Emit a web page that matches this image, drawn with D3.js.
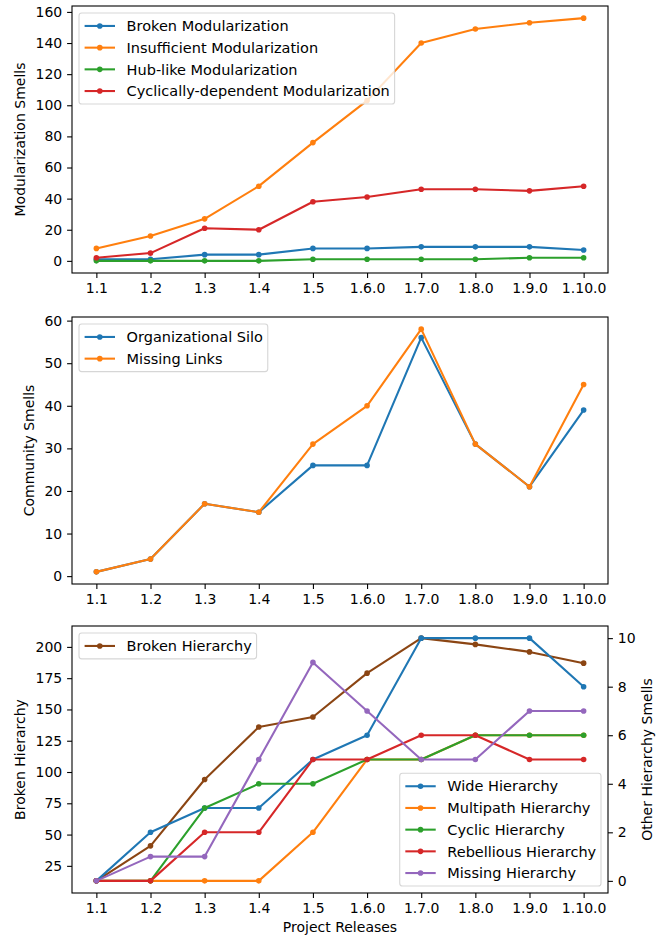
<!DOCTYPE html>
<html>
<head>
<meta charset="utf-8">
<script src="https://cdn.jsdelivr.net/npm/d3@7/dist/d3.min.js"></script>
<style>
    body { margin: 0; background: #ffffff; }
    svg text { font-family: "DejaVu Sans", sans-serif; font-size: 14px; fill: #000; }
    .axis path, .axis line { stroke: #000; stroke-width: 1.1px; }
    .legendText { font-size: 14.5px; }
</style>
</head>
<body>
<svg id="chart" width="662" height="938"></svg>
<script>
// ---------------------------- DATA ----------------------------
const releases = ["1.1", "1.2", "1.3", "1.4", "1.5", "1.6.0", "1.7.0", "1.8.0", "1.9.0", "1.10.0"];

// Top panel (modularization smells)
const brokenModularization = [1, 1, 4, 4, 8, 8, 9, 9, 9, 7];
const insufficientModularization = [8, 16, 27, 48, 76, 103, 140, 149, 153, 156];
const hubLikeModularization = [0, 0, 0, 0, 1, 1, 1, 1, 2, 2];
const cyclicModularization = [2, 5, 21, 20, 38, 41, 46, 46, 45, 48];
const modularizationTicks = [0, 20, 40, 60, 80, 100, 120, 140, 160];

// Middle panel (community smells)
const organizationalSilo = [1, 4, 17, 15, 26, 26, 56, 31, 21, 39];
const missingLinks = [1, 4, 17, 15, 31, 40, 58, 31, 21, 45];
const communityTicks = [0, 10, 20, 30, 40, 50, 60];

// Bottom panel (hierarchy smells)
const brokenHierarchy = [13, 41, 94, 136, 144, 179, 207, 202, 196, 187];
const wideHierarchy = [0, 2, 3, 3, 5, 6, 10, 10, 10, 8];
const multipathHierarchy = [0, 0, 0, 0, 2, 5, 5, 6, 6, 6];
const cyclicHierarchy = [0, 0, 3, 4, 4, 5, 5, 6, 6, 6];
const rebelliousHierarchy = [0, 0, 2, 2, 5, 5, 6, 6, 5, 5];
const missingHierarchy = [0, 1, 1, 5, 9, 7, 5, 5, 7, 7];
const brokenHierarchyTicks = [25, 50, 75, 100, 125, 150, 175, 200];
const otherHierarchyTicks = [0, 2, 4, 6, 8, 10];

// Colours
const blue = "#1f77b4", orange = "#ff7f0e", green = "#2ca02c", red = "#d62728", purple = "#9467bd", brown = "#8b4513";

// ---------------------------- LAYOUT ----------------------------
const left = 72;
const right = 608;
const panelHeight = 267;
const panelTops = [6, 317, 626];
const fontSize = 14;
const tickLen = 4.9;

const svg = d3.select("#chart");

const x = d3.scaleLinear()
    .domain([-0.45, releases.length - 1 + 0.45])
    .range([left, right]);

// matplotlib-style autoscale with 5% margins
function paddedDomain(seriesList) {
    const all = seriesList.flat();
    const lo = d3.min(all), hi = d3.max(all);
    const pad = (hi - lo) * 0.05;
    return [lo - pad, hi + pad];
}

function textWidth(str, cls) {
    const t = svg.append("text").attr("class", cls || null).text(str);
    const w = t.node().getComputedTextLength();
    t.remove();
    return w;
}

function drawSeries(g, y, values, colour) {
    const line = d3.line()
        .x((d, i) => x(i))
        .y(d => y(d));
    g.append("path")
        .datum(values)
        .attr("d", line)
        .attr("fill", "none")
        .attr("stroke", colour)
        .attr("stroke-width", 2.08)
        .attr("stroke-linejoin", "round");
    g.selectAll(null)
        .data(values)
        .enter()
        .append("circle")
        .attr("cx", (d, i) => x(i))
        .attr("cy", d => y(d))
        .attr("r", 2.8)
        .attr("fill", colour);
}

function drawXAxis(top) {
    svg.append("g")
        .attr("class", "axis")
        .attr("transform", "translate(0," + (top + panelHeight) + ")")
        .call(d3.axisBottom(x)
            .tickValues(d3.range(releases.length))
            .tickFormat(i => releases[i])
            .tickSize(tickLen)
            .tickPadding(4.9)
            .tickSizeOuter(0))
        .call(g => g.select(".domain").remove())
        .selectAll("text")
        .style("font-size", fontSize + "px")
        .attr("fill", "#000");
}

function drawYAxis(y, ticks, side, label) {
    const axis = side === "left" ? d3.axisLeft(y) : d3.axisRight(y);
    const xPos = side === "left" ? left : right;
    const g = svg.append("g")
        .attr("class", "axis")
        .attr("transform", "translate(" + xPos + ",0)")
        .call(axis.tickValues(ticks).tickSize(tickLen).tickPadding(4.9).tickSizeOuter(0));
    g.select(".domain").remove();
    g.selectAll("text").style("font-size", fontSize + "px").attr("fill", "#000");

    // Axis label positioned outside the widest tick label
    const maxW = d3.max(ticks, t => textWidth(String(t)));
    const yMid = (y.range()[0] + y.range()[1]) / 2;
    let lx;
    if (side === "left") {
        lx = left - tickLen - 4.9 - maxW - 5.6 - 4.5;
    } else {
        lx = right + tickLen + 4.9 + maxW + 5.6 + 10.6;
    }
    svg.append("text")
        .attr("transform", "translate(" + lx + "," + yMid + ") rotate(-90)")
        .attr("text-anchor", "middle")
        .text(label);
}

function drawFrame(top) {
    svg.append("rect")
        .attr("x", left)
        .attr("y", top)
        .attr("width", right - left)
        .attr("height", panelHeight)
        .attr("fill", "none")
        .attr("stroke", "#000")
        .attr("stroke-width", 1.1);
}

// Legend box, sizes
function drawLegend(items, top, corner) {
    const pad = 5.6, rowH = 14.7, spacing = 7;
    const handle = 30.4, handleGap = 11.6, axPad = 7;
    const maxW = d3.max(items, d => textWidth(d.name, "legendText"));
    const w = pad + handle + handleGap + maxW + 4.8;
    const h = pad * 2 + items.length * rowH + (items.length - 1) * spacing;
    let bx, by;
    if (corner === "upper left") {
        bx = left + axPad;
        by = top + axPad;
    } else {
        bx = right - axPad - w;
        by = top + panelHeight - axPad - h;
    }
    const g = svg.append("g");
    g.append("rect")
        .attr("x", bx).attr("y", by)
        .attr("width", w).attr("height", h)
        .attr("rx", 2.8)
        .attr("fill", "#fff").attr("fill-opacity", 0.8)
        .attr("stroke", "#cccccc").attr("stroke-opacity", 0.8)
        .attr("stroke-width", 1.1);
    items.forEach((d, i) => {
        const cy = by + pad + rowH / 2 + i * (rowH + spacing);
        g.append("line")
            .attr("x1", bx + pad).attr("x2", bx + pad + handle)
            .attr("y1", cy).attr("y2", cy)
            .attr("stroke", d.colour).attr("stroke-width", 2.08);
        g.append("circle")
            .attr("cx", bx + pad + handle / 2).attr("cy", cy)
            .attr("r", 2.8).attr("fill", d.colour);
        g.append("text")
            .attr("class", "legendText")
            .attr("x", bx + pad + handle + handleGap)
            .attr("y", cy)
            .attr("dy", "0.36em")
            .text(d.name);
    });
}

// ---------------------------- TOP PANEL ----------------------------
(function () {
    const top = panelTops[0];
    const series = [
        { name: "Broken Modularization", values: brokenModularization, colour: blue },
        { name: "Insufficient Modularization", values: insufficientModularization, colour: orange },
        { name: "Hub-like Modularization", values: hubLikeModularization, colour: green },
        { name: "Cyclically-dependent Modularization", values: cyclicModularization, colour: red }
    ];
    const y = d3.scaleLinear()
        .domain(paddedDomain(series.map(s => s.values)))
        .range([top + panelHeight, top]);
    const g = svg.append("g");
    series.forEach(s => drawSeries(g, y, s.values, s.colour));
    drawFrame(top);
    drawXAxis(top);
    drawYAxis(y, modularizationTicks, "left", "Modularization Smells");
    drawLegend(series, top, "upper left");
})();

// ---------------------------- MIDDLE PANEL ----------------------------
(function () {
    const top = panelTops[1];
    const series = [
        { name: "Organizational Silo", values: organizationalSilo, colour: blue },
        { name: "Missing Links", values: missingLinks, colour: orange }
    ];
    const y = d3.scaleLinear()
        .domain(paddedDomain(series.map(s => s.values)))
        .range([top + panelHeight, top]);
    const g = svg.append("g");
    series.forEach(s => drawSeries(g, y, s.values, s.colour));
    drawFrame(top);
    drawXAxis(top);
    drawYAxis(y, communityTicks, "left", "Community Smells");
    drawLegend(series, top, "upper left");
})();

// ---------------------------- BOTTOM PANEL ----------------------------
(function () {
    const top = panelTops[2];
    const broken = [{ name: "Broken Hierarchy", values: brokenHierarchy, colour: brown }];
    const others = [
        { name: "Wide Hierarchy", values: wideHierarchy, colour: blue },
        { name: "Multipath Hierarchy", values: multipathHierarchy, colour: orange },
        { name: "Cyclic Hierarchy", values: cyclicHierarchy, colour: green },
        { name: "Rebellious Hierarchy", values: rebelliousHierarchy, colour: red },
        { name: "Missing Hierarchy", values: missingHierarchy, colour: purple }
    ];
    const yLeft = d3.scaleLinear()
        .domain(paddedDomain([brokenHierarchy]))
        .range([top + panelHeight, top]);
    const yRight = d3.scaleLinear()
        .domain(paddedDomain(others.map(s => s.values)))
        .range([top + panelHeight, top]);
    const g = svg.append("g");
    drawSeries(g, yLeft, brokenHierarchy, brown);
    others.forEach(s => drawSeries(g, yRight, s.values, s.colour));
    drawFrame(top);
    drawXAxis(top);
    drawYAxis(yLeft, brokenHierarchyTicks, "left", "Broken Hierarchy");
    drawYAxis(yRight, otherHierarchyTicks, "right", "Other Hierarchy Smells");
    drawLegend(broken, top, "upper left");
    drawLegend(others, top, "lower right");

    svg.append("text")
        .attr("x", (left + right) / 2)
        .attr("y", 932)
        .attr("text-anchor", "middle")
        .text("Project Releases");
})();
</script>
</body>
</html>
